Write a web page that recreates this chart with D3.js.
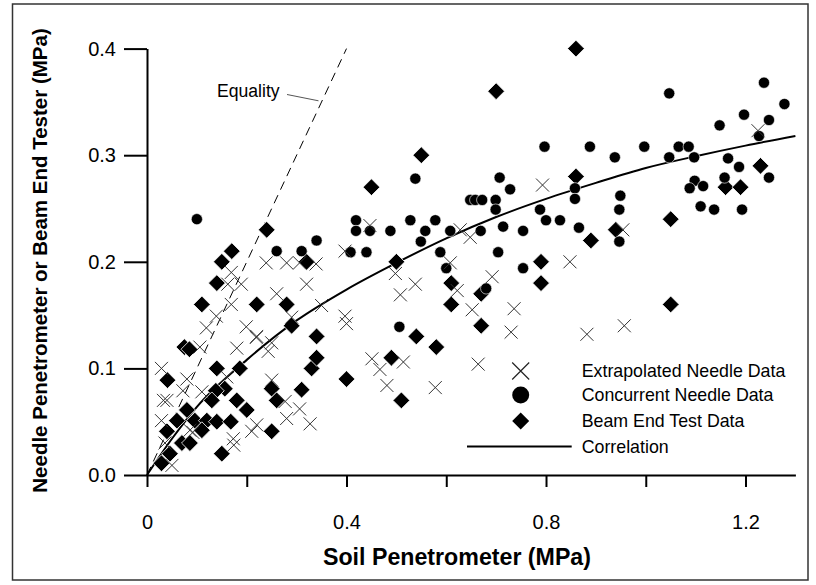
<!DOCTYPE html>
<html>
<head>
<meta charset="utf-8">
<script src="https://cdn.jsdelivr.net/npm/d3@7/dist/d3.min.js"></script>
<style>
  html, body { margin: 0; padding: 0; background: #fff; }
  svg { display: block; font-family: "Liberation Sans", Arial, sans-serif; }
</style>
</head>
<body>
<svg id="chart" width="816" height="585"></svg>
<script>
// ---- Data (MPa) ----
const extrapX = [0.029,0.033,0.040,0.029,0.080,0.072,0.110,0.106,0.180,0.220,0.250,0.243,0.250,0.160,0.086,0.092,0.173,0.174,0.210,0.220,0.280,0.277,0.050,0.036,
  0.119,0.139,0.169,0.162,0.189,0.169,0.239,0.280,0.306,0.320,0.260,0.199,0.219,0.290,0.306,0.327,
  0.793,0.447,0.397,0.628,0.648,0.339,0.608,0.498,0.538,0.508,0.692,0.622,0.350,0.652,0.736,0.397,0.400,0.730,0.451,0.467,0.514,0.481,0.578,0.664,
  1.225,0.954,0.848,0.882,0.957];
const extrapY = [0.100,0.070,0.070,0.051,0.090,0.079,0.078,0.120,0.119,0.130,0.124,0.116,0.089,0.092,0.042,0.040,0.034,0.028,0.041,0.047,0.053,0.069,0.009,0.030,
  0.138,0.149,0.160,0.179,0.179,0.190,0.199,0.199,0.199,0.179,0.170,0.139,0.129,0.148,0.062,0.048,
  0.272,0.234,0.210,0.230,0.223,0.198,0.199,0.189,0.179,0.169,0.186,0.173,0.159,0.155,0.156,0.149,0.142,0.134,0.109,0.099,0.106,0.084,0.082,0.104,
  0.323,0.230,0.200,0.132,0.140];

const concX = [0.100,0.260,0.310,0.340,
  0.538,0.707,0.728,0.648,0.658,0.672,0.699,0.699,0.788,0.800,0.419,0.419,0.447,0.488,0.528,0.578,0.558,0.549,0.608,0.669,0.714,0.754,0.408,0.440,0.588,0.704,0.600,0.754,0.506,0.680,
  1.047,1.237,1.278,1.197,1.148,1.247,1.227,0.797,0.888,0.938,0.997,1.047,1.066,1.086,1.097,1.165,1.187,1.247,1.098,1.088,1.115,1.158,1.110,1.137,1.193,0.858,0.858,0.949,0.947,0.828,0.866,0.947];
const concY = [0.240,0.210,0.210,0.220,
  0.278,0.279,0.268,0.258,0.258,0.258,0.258,0.249,0.249,0.239,0.239,0.229,0.229,0.229,0.239,0.239,0.229,0.219,0.229,0.229,0.233,0.229,0.209,0.209,0.209,0.209,0.194,0.194,0.139,0.175,
  0.358,0.368,0.348,0.338,0.328,0.333,0.318,0.308,0.308,0.298,0.308,0.298,0.308,0.308,0.298,0.297,0.289,0.279,0.276,0.269,0.271,0.279,0.252,0.249,0.249,0.269,0.259,0.262,0.249,0.239,0.232,0.219];

const beamX = [0.240,0.170,0.150,0.140,0.110,0.220,0.280,0.290,0.340,
  0.075,0.085,0.140,0.186,0.041,0.250,0.260,0.156,0.138,0.130,0.180,0.080,0.200,0.060,0.096,0.120,0.140,0.168,0.110,0.040,0.250,0.070,0.086,0.046,0.150,0.029,
  0.330,0.340,0.310,
  0.550,0.450,0.320,0.500,0.610,0.610,0.670,0.790,0.790,0.670,0.540,0.580,0.490,0.400,0.510,
  0.700,0.860,0.860,1.230,1.160,1.190,1.050,0.940,0.890,1.050];
const beamY = [0.230,0.210,0.200,0.180,0.160,0.160,0.160,0.140,0.130,
  0.120,0.118,0.100,0.100,0.089,0.081,0.070,0.081,0.079,0.070,0.070,0.061,0.061,0.051,0.051,0.051,0.050,0.050,0.042,0.041,0.041,0.030,0.030,0.020,0.020,0.011,
  0.100,0.110,0.080,
  0.300,0.270,0.200,0.200,0.180,0.160,0.170,0.200,0.180,0.140,0.130,0.120,0.110,0.090,0.070,
  0.360,0.400,0.280,0.290,0.270,0.270,0.240,0.230,0.220,0.160];

const corrX = [0, 0.05, 0.10, 0.20, 0.30, 0.40, 0.50, 0.60, 0.70, 0.80, 0.90, 1.00, 1.10, 1.20, 1.30];
const corrY = [0, 0.034, 0.064, 0.108, 0.145, 0.174, 0.199, 0.222, 0.242, 0.259, 0.274, 0.288, 0.299, 0.309, 0.318];

const eqX = [0, 0.4];
const eqY = [0, 0.4];

const xTicks = [0, 0.2, 0.4, 0.6, 0.8, 1.0, 1.2];
const xTickLabels = {0: "0", 0.4: "0.4", 0.8: "0.8", 1.2: "1.2"};
const yTicks = [0, 0.1, 0.2, 0.3, 0.4];
const legendLabels = ["Extrapolated Needle Data", "Concurrent Needle Data", "Beam End Test Data", "Correlation"];

// ---- Drawing ----
const svg = d3.select("#chart");
const x = d3.scaleLinear().domain([0, 1.3]).range([147, 795.4]);
const y = d3.scaleLinear().domain([0, 0.4]).range([475, 48.6]);

// outer frame
svg.append("rect").attr("x", 12.5).attr("y", 4).attr("width", 795.5).attr("height", 576)
  .attr("fill", "none").attr("stroke", "#333").attr("stroke-width", 1.5);

// axes
const yAxis = d3.axisLeft(y).tickValues(yTicks).tickSize(23).tickSizeOuter(0).tickPadding(8)
  .tickFormat(d3.format(".1f"));
const gy = svg.append("g").attr("transform", `translate(${x(0)},0)`).call(yAxis);
const xAxis = d3.axisBottom(x).tickValues(xTicks).tickSize(12).tickSizeOuter(0).tickPadding(28)
  .tickFormat(d => { const k = Object.keys(xTickLabels).find(t => Math.abs(+t - d) < 1e-9); return k !== undefined ? xTickLabels[k] : ""; });
const gx = svg.append("g").attr("transform", `translate(0,${y(0)})`).call(xAxis);
[gx, gy].forEach(g => {
  g.selectAll("path.domain").attr("stroke", "#000").attr("stroke-width", 2);
  g.selectAll(".tick line").attr("stroke", "#000").attr("stroke-width", 2);
  g.selectAll(".tick text").attr("fill", "#000").style("font-size", "20px")
    .style("font-family", '"Liberation Sans", Arial, sans-serif');
});
gx.selectAll(".tick text").attr("dy", "0.71em");

// axis titles
svg.append("text").attr("x", 457).attr("y", 565).attr("text-anchor", "middle")
  .style("font-size", "23.2px").style("font-weight", "bold").text("Soil Penetrometer (MPa)");
svg.append("text").attr("transform", "translate(47,260.5) rotate(-90)").attr("text-anchor", "middle")
  .style("font-size", "20.5px").style("font-weight", "bold").text("Needle Penetrometer or Beam End Tester (MPa)");

// equality line
const eqData = eqX.map((v, i) => [v, eqY[i]]);
svg.append("path").datum(eqData)
  .attr("d", d3.line().x(d => x(d[0])).y(d => y(d[1])))
  .attr("fill", "none").attr("stroke", "#000").attr("stroke-width", 1).attr("stroke-dasharray", "9,6");
svg.append("line").attr("x1", 287).attr("y1", 94.5).attr("x2", 318.5).attr("y2", 100.8)
  .attr("stroke", "#555").attr("stroke-width", 1);
svg.append("text").attr("x", 217).attr("y", 96.5).style("font-size", "17.6px").text("Equality");

// correlation curve
const corrData = corrX.map((v, i) => [v, corrY[i]]);
svg.append("path").datum(corrData)
  .attr("d", d3.line().x(d => x(d[0])).y(d => y(d[1])).curve(d3.curveMonotoneX))
  .attr("fill", "none").attr("stroke", "#000").attr("stroke-width", 2);

// markers
const diamondPath = h => `M0,${-h}L${h},0L0,${h}L${-h},0Z`;
const crossPath = h => `M${-h},${-h}L${h},${h}M${-h},${h}L${h},${-h}`;

const beam = beamX.map((v, i) => [v, beamY[i]]);
svg.append("g").selectAll("path").data(beam).join("path")
  .attr("transform", d => `translate(${x(d[0])},${y(d[1])})`)
  .attr("d", diamondPath(8.4)).attr("fill", "#000").attr("stroke", "#fff").attr("stroke-width", 0.8);

const conc = concX.map((v, i) => [v, concY[i]]);
svg.append("g").selectAll("circle").data(conc).join("circle")
  .attr("cx", d => x(d[0])).attr("cy", d => y(d[1])).attr("r", 5.6)
  .attr("fill", "#000").attr("stroke", "#fff").attr("stroke-width", 0.6);

const extrap = extrapX.map((v, i) => [v, extrapY[i]]);
svg.append("g").selectAll("path").data(extrap).join("path")
  .attr("transform", d => `translate(${x(d[0])},${y(d[1])})`)
  .attr("d", crossPath(6.5)).attr("fill", "none").attr("stroke", "#333").attr("stroke-width", 1);

// legend
const lg = svg.append("g");
const rowY = [371, 395, 421, 446.5];
const symX = 520.7;
lg.append("path").attr("transform", `translate(${symX},${rowY[0]})`).attr("d", crossPath(8.5))
  .attr("stroke", "#222").attr("stroke-width", 1.2).attr("fill", "none");
lg.append("circle").attr("cx", symX).attr("cy", rowY[1]).attr("r", 8.5).attr("fill", "#000");
lg.append("path").attr("transform", `translate(${symX},${rowY[2]})`).attr("d", diamondPath(8.5)).attr("fill", "#000");
lg.append("line").attr("x1", 467).attr("x2", 571.7).attr("y1", rowY[3]).attr("y2", rowY[3])
  .attr("stroke", "#000").attr("stroke-width", 2);
lg.selectAll("text").data(legendLabels).join("text")
  .attr("x", 581.7).attr("y", (d, i) => rowY[i] + 6.3)
  .style("font-size", "17.8px").text(d => d);
</script>
</body>
</html>
